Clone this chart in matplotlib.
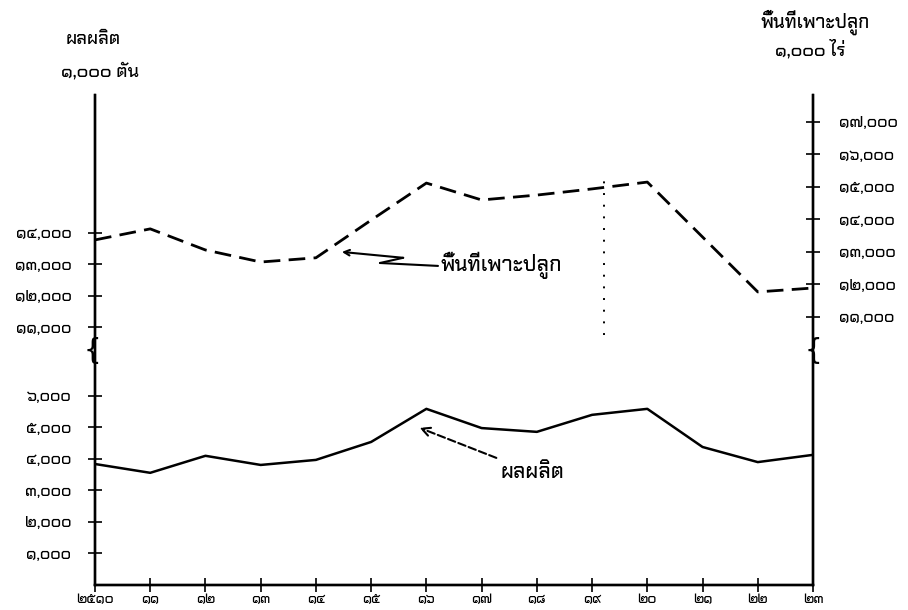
import matplotlib
matplotlib.use('Agg')
import matplotlib.pyplot as plt

plt.rcParams['font.family'] = ['Chakra Petch', 'DejaVu Sans']
plt.rcParams['font.weight'] = 'medium'

# data
years = [2510, 2511, 2512, 2513, 2514, 2515, 2516, 2517, 2518, 2519, 2520, 2521, 2522, 2523]
production = [3.84, 3.56, 4.10, 3.81, 3.97, 4.54, 5.59, 4.98, 4.86, 5.40, 5.59, 4.38, 3.90, 4.13]   # 1,000 ton
area = [13.37, 13.71, 13.06, 12.69, 12.82, 13.98, 15.12, 14.60, 14.75, 14.94, 15.15, 13.46, 11.77, 11.89]  # 1,000 rai

prod_ticks = [1, 2, 3, 4, 5, 6]
prod_ticks_upper = [11, 12, 13, 14]
area_ticks = [11, 12, 13, 14, 15, 16, 17]
break_shift = 2.82   # left axis is broken between 6,000 and 11,000

THAI = str.maketrans('0123456789', '๐๑๒๓๔๕๖๗๘๙')


def thai(s):
    return str(s).translate(THAI)


def thousands(v):
    return thai('{:,}'.format(v * 1000))


fig = plt.figure(figsize=(9.08, 6.10), dpi=100)
ax = fig.add_axes([95 / 908, 25 / 610, 718 / 908, 490 / 610])
ax2 = ax.twinx()

ax.plot(years, production, color='black', lw=1.8)
ax2.plot(years, area, color='black', lw=2.0, ls=(0, (6, 3)))

ax.set_xlim(2510, 2523)
ax.set_ylim(0, 15.55)
ax2.set_ylim(2.75, 17.83)

# x ticks
ax.set_xticks(years)
ax.set_xticklabels([thai(years[0])] + [thai(y % 100) for y in years[1:]], fontsize=10)

# left axis: lower and upper part
pos = prod_ticks + [v - break_shift for v in prod_ticks_upper]
lab = [thousands(v) for v in prod_ticks] + [thousands(v) for v in prod_ticks_upper]
ax.set_yticks(pos)
ax.set_yticklabels(lab, fontsize=11.5)

ax2.set_yticks(area_ticks)
ax2.set_yticklabels([thousands(v) for v in area_ticks], fontsize=11.5)

for a in (ax, ax2):
    a.spines['top'].set_visible(False)
    for s in a.spines.values():
        s.set_linewidth(1.7)
    a.tick_params(direction='inout', length=10, width=1.2)
ax.tick_params(axis='y', pad=12)
ax2.tick_params(axis='y', pad=14)
ax.tick_params(axis='x', pad=1)

# axis break marks
for xf in (-0.004, 1):
    ax.text(xf, 0.478, '{', transform=ax.transAxes, fontsize=20,
            ha='center', va='center', family='DejaVu Sans')

# dotted vertical line
ax.axvline(2519.22, ymin=0.51, ymax=0.835, color='black', ls=(0, (1, 5)), lw=1.4)

# axis titles
fig.text(93 / 908, 1 - 40 / 610, 'ผลผลิต', ha='center', va='center', fontsize=13)
fig.text(100 / 908, 1 - 72 / 610, '๑,๐๐๐ ตัน', ha='center', va='center', fontsize=13)
fig.text(815 / 908, 1 - 22 / 610, 'พื้นที่เพาะปลูก', ha='center', va='center', fontsize=13.5)
fig.text(810 / 908, 1 - 50 / 610, '๑,๐๐๐ ไร่', ha='center', va='center', fontsize=13)

# label with a zigzag arrow for the planted area
ax2.annotate('', xy=(2515.16, 12.66), xytext=(2516.21, 12.57),
             arrowprops=dict(arrowstyle='-', color='black', lw=1.5, shrinkA=0, shrinkB=0))
ax2.annotate('', xy=(2515.58, 12.82), xytext=(2515.16, 12.66),
             arrowprops=dict(arrowstyle='-', color='black', lw=1.5, shrinkA=0, shrinkB=0))
ax2.annotate('', xy=(2514.47, 13.0), xytext=(2515.58, 12.82),
             arrowprops=dict(arrowstyle='->', color='black', lw=1.5, shrinkA=0, shrinkB=0))
ax2.text(2516.25, 12.6, 'พื้นที่เพาะปลูก', fontsize=15, va='center', ha='left')

# label for production
ax.annotate('ผลผลิต', xy=(2515.83, 5.02), xytext=(2517.35, 3.58),
            fontsize=15, va='center',
            arrowprops=dict(arrowstyle='->', color='black', lw=1.5, ls='--'))

fig.savefig('out.png', dpi=100)
